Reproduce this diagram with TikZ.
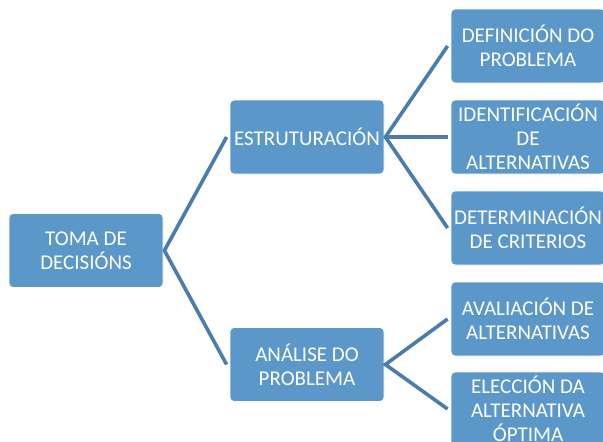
\documentclass[tikz,border=0pt]{standalone}
\usepackage{fontspec}
\setmainfont{Carlito}
\definecolor{boxblue}{HTML}{5B97C9}
\definecolor{lineblue}{HTML}{4A7CAD}
\begin{document}
\begin{tikzpicture}[x=1pt,y=-1pt,
  box/.style={rectangle,rounded corners=4pt,fill=boxblue,draw=white,line width=0.8pt,
    minimum width=154pt,minimum height=74pt,inner sep=0pt,
    text=white,font=\fontsize{21}{24}\selectfont,align=center},
  conn/.style={draw=lineblue,line width=3.6pt}]
\useasboundingbox (0,0) rectangle (603,442);
\begin{scope}
\clip (0,0) rectangle (603,442);
\node[box] (toma) at (86,250.5) {TOMA DE\\DECISIÓNS};
\node[box] (estr) at (307,137) {ESTRUTURACIÓN};
\node[box] (anal) at (307,364.5) {ANÁLISE DO\\PROBLEMA};
\node[box] (def) at (528,46) {DEFINICIÓN DO\\PROBLEMA};
\node[box] (ident) at (528,137) {IDENTIFICACIÓN\\DE\\ALTERNATIVAS};
\node[box] (det) at (528,228) {DETERMINACIÓN\\DE CRITERIOS};
\node[box] (aval) at (528,319) {AVALIACIÓN DE\\ALTERNATIVAS};
\node[box] (elec) at (528,409) {ELECCIÓN DA\\ALTERNATIVA\\ÓPTIMA};
\begin{scope}[on background layer/.style={}]
\draw[conn] ([xshift=-3pt]estr.west) -- ([xshift=1pt]toma.east) -- ([xshift=-3pt]anal.west);
\draw[conn] ([xshift=-3pt]def.west) -- ([xshift=1pt]estr.east) -- ([xshift=-3pt]det.west);
\draw[conn] ([xshift=1pt]estr.east) -- ([xshift=-3pt]ident.west);
\draw[conn] ([xshift=-3pt]aval.west) -- ([xshift=1pt]anal.east) -- ([xshift=-3pt]elec.west);
\end{scope}
\end{scope}
\end{tikzpicture}
\end{document}
